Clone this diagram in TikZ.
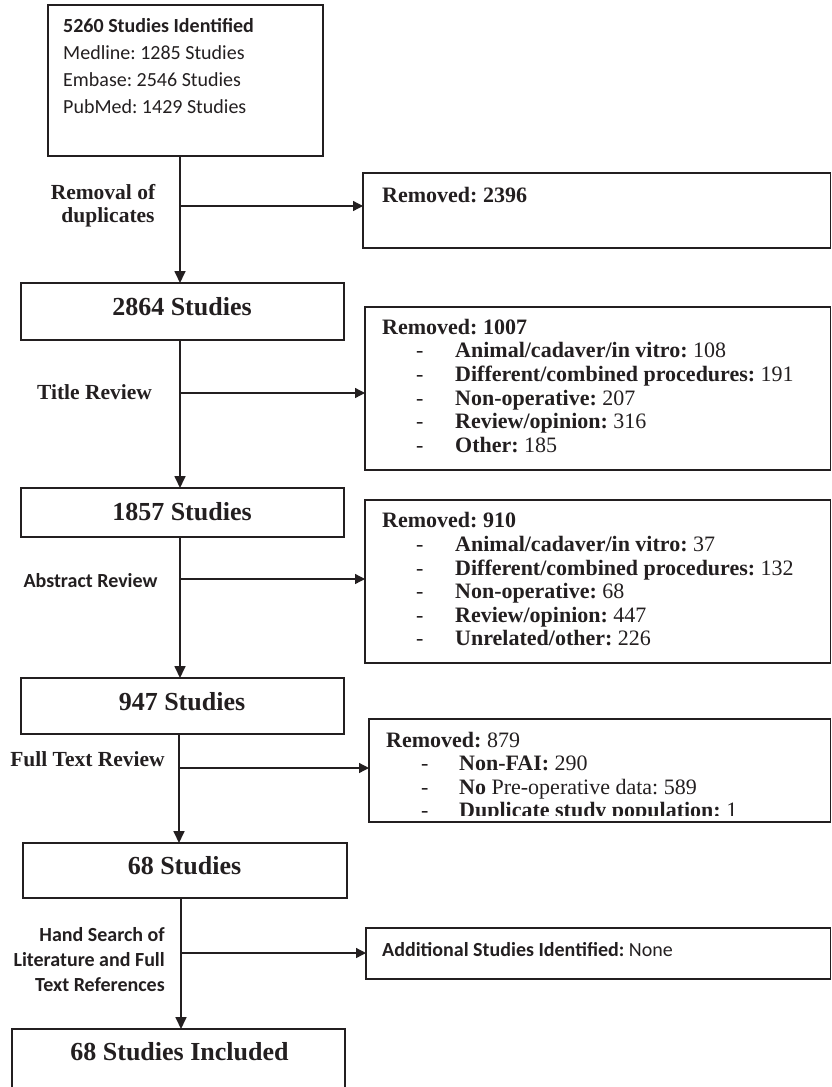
\documentclass[tikz,border=0pt]{standalone}
\usepackage{fontspec}
\setmainfont{Liberation Serif}
\newfontfamily\calfont{Carlito}
\usetikzlibrary{arrows.meta}
\definecolor{ink}{RGB}{35,31,32}
\frenchspacing
\begin{document}
\begin{tikzpicture}[x=1pt,y=-1pt,
  box/.style={draw=ink, line width=1.3pt, inner sep=0pt, outer sep=0pt, anchor=north west},
  vline/.style={draw=ink, line width=1.7pt},
  varrow/.style={vline, -{Triangle[length=12pt,width=11pt]}},
  harrow/.style={draw=ink, line width=1.3pt, -{Triangle[length=10pt,width=10pt]}},
  big/.style={font=\frenchspacing\fontsize{26}{30}\selectfont\bfseries, text=ink, anchor=base, inner sep=0pt},
  lst/.style={font=\frenchspacing\fontsize{22}{26}\selectfont, anchor=base west, inner sep=0pt, text=ink},
  lab/.style={font=\frenchspacing\fontsize{21.5}{24}\selectfont\bfseries, anchor=base, inner sep=0pt, text=ink},
  sans/.style={font=\frenchspacing\calfont\fontsize{20}{24}\selectfont, anchor=base west, inner sep=0pt, text=ink},
  sanslab/.style={font=\frenchspacing\calfont\fontsize{20}{24}\selectfont\bfseries, inner sep=0pt, text=ink},
]
\useasboundingbox (0,0) rectangle (832,1087);

% ---- main column boxes
\node[box, minimum width=275pt, minimum height=151pt] (b1) at (48,5) {};
\node[box, minimum width=323pt, minimum height=57pt] (b2) at (21,283) {};
\node[box, minimum width=323pt, minimum height=49pt] (b3) at (21,488) {};
\node[box, minimum width=323pt, minimum height=56pt] (b4) at (21,678) {};
\node[box, minimum width=324pt, minimum height=55pt] (b5) at (23,843) {};
\node[box, minimum width=333pt, minimum height=80pt] (b6) at (12,1029) {};

% ---- side boxes
\node[box, minimum width=467.5pt, minimum height=75pt] (r1) at (363,173) {};
\node[box, minimum width=465.5pt, minimum height=163pt] (r2) at (365,307) {};
\node[box, minimum width=465.5pt, minimum height=163pt] (r3) at (365,500) {};
\node[box, minimum width=461.5pt, minimum height=103pt] (r4) at (369,719) {};
\node[box, minimum width=464.5pt, minimum height=51pt] (r5) at (366,928) {};

% ---- box 1 text
\node[sans, font=\frenchspacing\calfont\fontsize{20}{24}\selectfont\bfseries] (t1a) at (63,32) {5260 Studies Identified};
\node[sans] (t1b) at (63,59.5) {Medline: 1285 Studies};
\node[sans] (t1c) at (63,86.5) {Embase: 2546 Studies};
\node[sans] (t1d) at (63,113) {PubMed: 1429 Studies};

% ---- main box titles
\node[big] (t2) at (182,315) {2864 Studies};
\node[big] (t3) at (182,520) {1857 Studies};
\node[big] (t4) at (182,710) {947 Studies};
\node[big] (t5) at (184.5,874) {68 Studies};
\node[big] (t6) at (179.5,1060) {68 Studies Included};

% ---- trunk junctions
\coordinate (j1) at (180,206);
\coordinate (j2) at (180,393);
\coordinate (j3) at (180,579);
\coordinate (j4) at (179,768);
\coordinate (j5) at (181,953);

% ---- connectors
\draw[varrow] (b1.south -| j1) -- (b2.north -| j1);
\draw[varrow] (b2.south -| j2) -- (b3.north -| j2);
\draw[varrow] (b3.south -| j3) -- (b4.north -| j3);
\draw[varrow] (b4.south -| j4) -- (b5.north -| j4);
\draw[varrow] (b5.south -| j5) -- (b6.north -| j5);
\draw[harrow] (j1) -- (r1.west |- j1);
\draw[harrow] (j2) -- (r2.west |- j2);
\draw[harrow] (j3) -- (r3.west |- j3);
\draw[harrow] (j4) -- (r4.west |- j4);
\draw[harrow] (j5) -- (r5.west |- j5);

% ---- step labels
\node[lab] (l1a) at (103,199) {Removal of};
\node[lab] (l1b) at (108,222) {duplicates};
\node[lab] (l2) at (94.5,399) {Title Review};
\node[sanslab, anchor=base] (l3) at (90.5,587) {Abstract Review};
\node[lab] (l4) at (87.5,766) {Full Text Review};
\node[sanslab, anchor=base east] (l5a) at (165,941) {Hand Search of};
\node[sanslab, anchor=base east] (l5b) at (165,966) {Literature and Full};
\node[sanslab, anchor=base east] (l5c) at (165,991) {Text References};

% ---- r1
\node[lst] (s1) at (382,202) {\textbf{Removed: 2396}};

% ---- r2
\node[lst] (s2) at (382,334) {\textbf{Removed: 1007}};
\node[lst] (d2a) at (416,357.7) {-};
\node[lst] (s2a) at (455,357.7) {\textbf{Animal/cadaver/in vitro:} 108};
\node[lst] (d2b) at (416,381.4) {-};
\node[lst] (s2b) at (455,381.4) {\textbf{Different/combined procedures:} 191};
\node[lst] (d2c) at (416,405.1) {-};
\node[lst] (s2c) at (455,405.1) {\textbf{Non-operative:} 207};
\node[lst] (d2d) at (416,428.8) {-};
\node[lst] (s2d) at (455,428.8) {\textbf{Review/opinion:} 316};
\node[lst] (d2e) at (416,452.5) {-};
\node[lst] (s2e) at (455,452.5) {\textbf{Other:} 185};

% ---- r3
\node[lst] (s3) at (382,527) {\textbf{Removed: 910}};
\node[lst] (d3a) at (416,551.5) {-};
\node[lst] (s3a) at (455,551.5) {\textbf{Animal/cadaver/in vitro:} 37};
\node[lst] (d3b) at (416,575.5) {-};
\node[lst] (s3b) at (455,575.5) {\textbf{Different/combined procedures:} 132};
\node[lst] (d3c) at (416,598.5) {-};
\node[lst] (s3c) at (455,598.5) {\textbf{Non-operative:} 68};
\node[lst] (d3d) at (416,622) {-};
\node[lst] (s3d) at (455,622) {\textbf{Review/opinion:} 447};
\node[lst] (d3e) at (416,645.5) {-};
\node[lst] (s3e) at (455,645.5) {\textbf{Unrelated/other:} 226};

% ---- r4 (last line cut off by the box)
\begin{scope}
\clip (r4.north west) rectangle (830,815);
\node[lst] (s4) at (386,747) {\textbf{Removed:} 879};
\node[lst] (d4a) at (421,770.7) {-};
\node[lst] (s4a) at (459,770.7) {\textbf{Non-FAI:} 290};
\node[lst] (d4b) at (421,794) {-};
\node[lst] (s4b) at (459,794) {\textbf{No} Pre-operative data: 589};
\node[lst] (d4c) at (421,817.5) {-};
\node[lst] (s4c) at (459,817.5) {\textbf{Duplicate study population:} 1};
\end{scope}

% ---- r5
\node[sans] (s5) at (382,956) {\textbf{Additional Studies Identified:} None};
\end{tikzpicture}
\end{document}
